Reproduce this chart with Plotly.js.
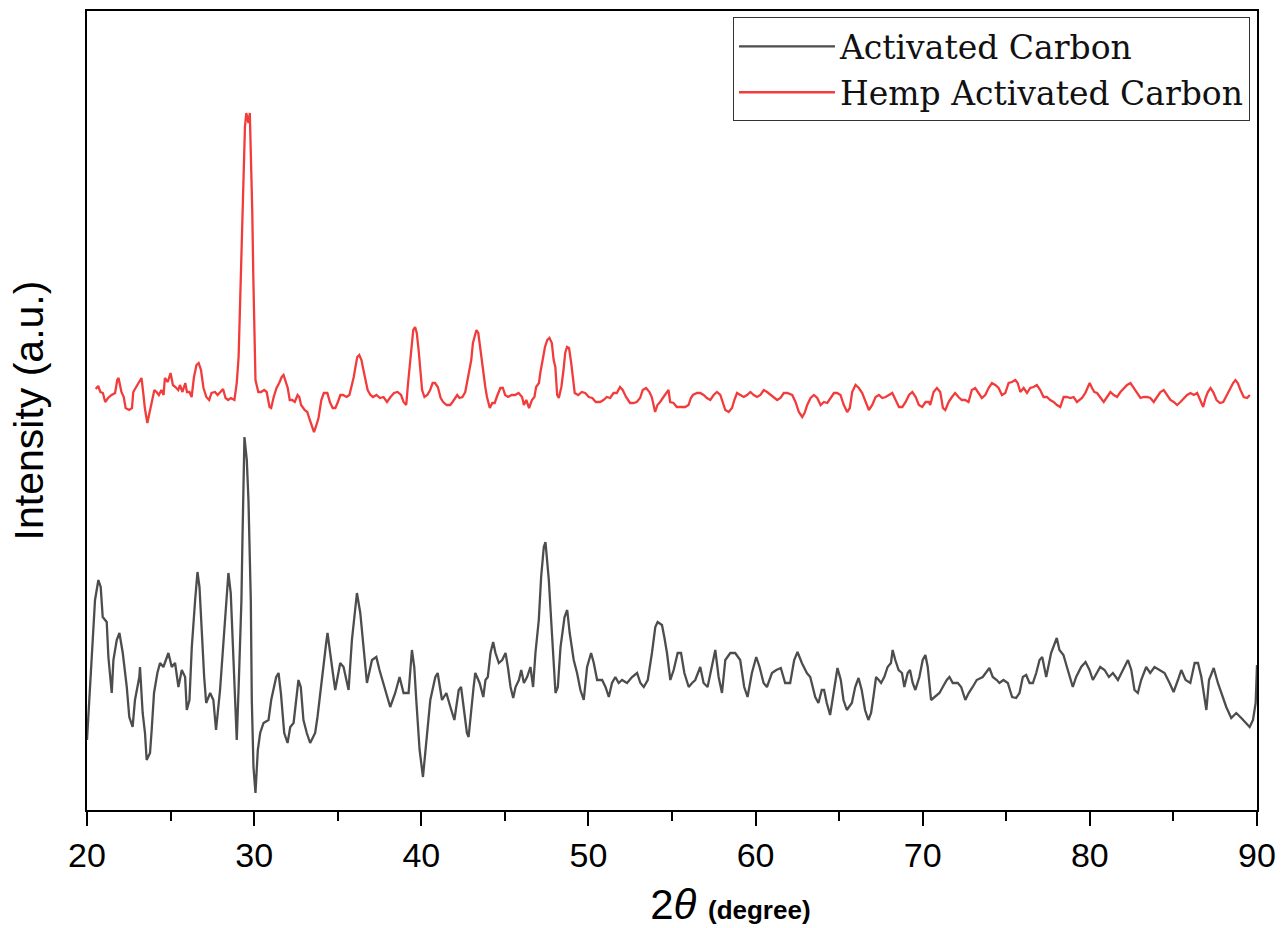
<!DOCTYPE html>
<html>
<head>
<meta charset="utf-8">
<script src="https://cdn.plot.ly/plotly-3.0.1.min.js"></script>
<style>html,body{margin:0;padding:0;background:#fff;}#chart{width:1281px;height:928px;}</style>
</head>
<body>
<div id="chart"></div>
<script>
// Activated Carbon (black/grey trace)
var twoThetaAC = [20.00,20.18,20.34,20.48,20.68,20.82,20.94,21.18,21.28,21.48,21.58,21.78,21.94,22.14,22.38,22.53,22.73,22.87,23.13,23.17,23.33,23.47,23.57,23.77,23.87,24.01,24.21,24.37,24.57,24.87,25.07,25.27,25.47,25.67,25.87,25.97,26.13,26.27,26.47,26.61,26.73,26.87,27.01,27.13,27.37,27.56,27.72,27.96,28.20,28.36,28.46,28.60,28.76,28.96,29.08,29.24,29.30,29.36,29.42,29.56,29.66,29.80,29.86,29.96,30.08,30.22,30.36,30.56,30.86,31.02,31.32,31.46,31.60,31.80,32.00,32.16,32.36,32.65,32.79,32.95,33.15,33.35,33.65,33.79,34.05,34.31,34.39,34.51,34.71,34.85,35.15,35.35,35.65,35.85,36.15,36.35,36.59,36.75,37.05,37.31,37.50,37.84,38.14,38.44,38.70,38.94,39.24,39.44,39.58,39.70,39.90,40.10,40.34,40.54,40.84,40.98,41.24,41.50,41.74,41.98,42.24,42.38,42.73,42.83,43.13,43.23,43.49,43.71,43.84,43.98,44.14,44.30,44.44,44.64,44.84,45.04,45.18,45.34,45.50,45.64,45.84,45.98,46.14,46.33,46.53,46.69,46.83,47.03,47.17,47.33,47.43,47.63,47.83,48.03,48.17,48.33,48.57,48.73,48.88,49.12,49.32,49.52,49.72,49.92,50.16,50.32,50.52,50.82,51.02,51.22,51.41,51.61,51.81,52.01,52.31,52.61,52.91,53.11,53.31,53.55,53.80,54.00,54.14,54.40,54.54,54.70,54.90,55.10,55.34,55.54,55.74,56.00,56.20,56.39,56.69,56.89,57.13,57.39,57.59,57.79,57.99,58.19,58.49,58.78,59.08,59.32,59.52,59.78,60.04,60.24,60.48,60.68,60.98,61.24,61.51,61.77,62.07,62.31,62.51,62.77,63.07,63.27,63.57,63.76,63.96,64.10,64.26,64.46,64.70,64.90,65.10,65.26,65.46,65.76,65.96,66.16,66.35,66.55,66.75,66.91,67.05,67.21,67.37,67.51,67.70,67.90,68.10,68.20,68.36,68.56,68.76,68.90,69.10,69.24,69.40,69.56,69.80,70.00,70.16,70.30,70.50,70.70,71.00,71.20,71.44,71.60,71.80,72.10,72.30,72.55,72.75,72.99,73.23,73.59,73.99,74.19,74.43,74.59,74.83,75.09,75.35,75.59,75.79,75.99,76.19,76.39,76.59,76.79,76.99,77.15,77.39,77.68,77.88,78.02,78.18,78.42,78.68,78.98,79.18,79.48,79.74,79.98,80.18,80.42,80.62,80.88,81.14,81.38,81.68,81.98,82.28,82.48,82.67,82.87,83.07,83.37,83.61,83.87,84.17,84.47,84.77,85.01,85.27,85.47,85.73,86.01,86.27,86.47,86.67,86.87,86.97,87.13,87.41,87.66,87.96,88.16,88.46,88.76,89.06,89.36,89.56,89.76,89.92,90.00];
var intensityAC = [70,123,177,210,230,223,193,188,153,117,150,170,177,157,123,93,83,110,133,143,97,77,50,57,80,117,137,147,143,157,143,147,123,140,133,100,110,163,210,238,223,177,133,107,117,110,80,120,177,217,237,217,157,70,127,210,270,343,373,350,310,210,110,43,17,60,77,87,90,110,133,137,117,77,67,83,87,130,123,90,77,67,77,93,133,167,177,160,137,120,147,143,120,170,217,197,153,127,150,153,140,120,103,117,133,117,117,160,143,110,60,33,77,110,133,137,110,117,103,90,120,123,77,73,123,137,127,113,130,133,157,168,157,147,150,157,143,123,112,123,130,140,127,133,143,123,157,190,233,263,268,230,173,117,123,163,193,200,177,150,137,120,110,143,157,147,130,130,123,113,127,133,127,130,127,133,137,127,123,130,157,183,188,185,173,157,130,140,157,157,137,123,127,130,143,127,123,143,160,133,117,150,157,157,150,123,113,137,153,143,127,123,137,140,142,127,127,150,158,147,137,133,113,107,120,120,107,95,123,142,130,110,100,107,123,132,120,100,90,97,113,133,130,127,133,143,147,160,150,140,137,123,137,140,127,120,133,150,155,143,110,113,117,123,130,133,127,127,123,110,117,123,130,133,142,133,130,127,130,127,113,112,117,133,135,127,127,137,150,153,133,157,165,172,160,155,140,123,133,143,148,140,130,137,143,140,133,137,130,140,150,140,120,117,130,143,137,143,140,137,127,118,130,140,130,127,147,147,133,113,100,130,142,127,113,103,92,97,92,87,83,90,107,145];

// Hemp Activated Carbon (red trace)
var twoThetaHAC = [20.52,20.67,20.80,20.95,21.09,21.26,21.47,21.68,21.81,21.89,22.06,22.20,22.31,22.52,22.69,22.77,22.94,23.11,23.26,23.36,23.46,23.61,23.74,23.88,24.03,24.16,24.30,24.45,24.58,24.66,24.83,25.00,25.14,25.29,25.46,25.56,25.71,25.88,25.98,26.13,26.26,26.40,26.55,26.68,26.82,26.97,27.14,27.31,27.45,27.66,27.81,27.98,28.14,28.29,28.44,28.61,28.82,28.96,29.07,29.17,29.28,29.36,29.45,29.53,29.66,29.74,29.82,29.89,29.95,30.01,30.08,30.25,30.41,30.60,30.75,30.92,31.02,31.17,31.34,31.50,31.65,31.76,31.88,32.01,32.13,32.28,32.43,32.60,32.70,32.81,33.02,33.18,33.33,33.48,33.58,33.69,33.85,34.02,34.17,34.38,34.53,34.70,34.86,35.01,35.16,35.32,35.53,35.70,35.85,35.96,36.06,36.17,36.29,36.42,36.54,36.65,36.79,36.96,37.11,37.32,37.53,37.74,37.95,38.16,38.37,38.58,38.79,38.94,39.10,39.21,39.31,39.42,39.52,39.63,39.73,39.84,39.94,40.05,40.19,40.36,40.53,40.68,40.82,40.99,41.16,41.31,41.52,41.73,41.87,42.04,42.15,42.29,42.46,42.63,42.77,42.88,42.99,43.09,43.20,43.30,43.41,43.51,43.62,43.72,43.83,43.93,44.10,44.25,44.39,44.56,44.73,44.88,45.02,45.19,45.40,45.61,45.82,46.03,46.14,46.28,46.45,46.62,46.77,46.87,47.04,47.12,47.25,47.40,47.54,47.67,47.81,47.92,48.02,48.13,48.23,48.38,48.51,48.61,48.72,48.84,48.97,49.07,49.18,49.39,49.60,49.81,50.02,50.23,50.44,50.70,50.90,51.10,51.30,51.50,51.70,51.89,52.05,52.25,52.49,52.69,52.89,53.09,53.25,53.45,53.65,53.79,53.89,53.99,54.13,54.29,54.49,54.69,54.79,54.89,55.09,55.29,55.49,55.79,55.99,56.13,56.25,56.49,56.69,56.89,57.09,57.29,57.49,57.69,57.89,58.05,58.19,58.39,58.59,58.73,58.89,59.09,59.29,59.49,59.69,59.89,60.09,60.29,60.49,60.69,60.89,61.09,61.29,61.49,61.69,61.89,62.19,62.39,62.59,62.79,62.93,63.09,63.29,63.49,63.69,63.89,64.09,64.29,64.49,64.69,64.88,65.08,65.28,65.48,65.64,65.78,65.98,66.18,66.38,66.58,66.78,66.98,67.18,67.38,67.58,67.78,67.98,68.18,68.38,68.58,68.78,68.98,69.18,69.38,69.58,69.77,69.97,70.17,70.37,70.45,70.65,70.85,71.05,71.21,71.35,71.55,71.75,71.94,72.14,72.34,72.54,72.74,72.94,73.14,73.34,73.54,73.74,73.94,74.14,74.34,74.54,74.74,74.94,75.14,75.34,75.54,75.68,75.84,76.04,76.24,76.43,76.63,76.83,77.03,77.23,77.43,77.63,77.83,78.03,78.23,78.43,78.63,78.83,79.03,79.23,79.39,79.53,79.73,79.87,79.99,80.13,80.27,80.43,80.63,80.83,81.03,81.23,81.43,81.63,81.83,82.03,82.23,82.43,82.63,82.83,83.03,83.22,83.42,83.62,83.82,84.02,84.22,84.42,84.62,84.82,85.02,85.22,85.42,85.62,85.82,86.02,86.22,86.42,86.62,86.78,86.92,87.06,87.22,87.38,87.58,87.78,87.98,88.18,88.37,88.57,88.71,88.85,89.01,89.21,89.41,89.57];
var intensityHAC = [421,424,418,417,408,412,415,417,430,432,418,413,402,400,402,418,423,428,432,418,402,387,397,407,420,418,415,420,415,432,428,437,425,423,420,425,418,427,418,418,413,433,445,447,440,422,413,410,417,418,415,418,421,412,410,412,410,427,453,513,573,637,683,697,687,697,655,597,533,470,430,418,418,420,418,403,402,413,422,427,433,435,428,422,410,410,408,415,413,405,400,398,390,382,378,383,392,410,417,417,408,402,402,408,415,415,413,415,425,433,443,453,455,450,440,430,420,415,413,415,412,413,408,413,417,418,415,408,405,427,443,463,480,483,477,460,440,420,413,415,420,427,427,423,412,408,405,405,408,412,415,412,413,418,430,437,450,467,475,480,477,463,450,437,423,413,402,407,407,415,422,422,415,413,415,415,417,413,405,410,402,410,413,423,427,437,450,463,470,472,467,450,443,415,412,423,440,457,463,462,447,430,417,415,418,417,413,412,408,408,410,413,412,417,417,423,420,413,407,407,408,412,420,422,418,413,405,398,405,408,413,418,420,408,407,403,403,403,405,412,415,417,417,415,412,410,415,418,415,408,400,398,402,410,417,415,413,415,418,415,413,415,420,418,415,413,410,412,417,417,415,408,398,393,397,405,412,415,412,405,408,407,412,417,417,415,405,398,402,418,425,422,417,408,400,405,413,415,412,413,415,417,410,403,403,408,415,418,413,405,403,408,408,405,418,422,418,402,400,408,413,417,413,410,410,408,420,422,417,412,415,422,427,425,422,415,417,427,428,430,427,418,422,417,422,423,425,420,413,413,410,408,405,403,413,413,412,413,408,410,412,417,422,427,422,418,417,412,408,413,418,415,413,418,422,425,427,422,417,412,413,413,412,408,413,418,420,415,410,408,405,408,412,415,417,415,417,410,403,412,418,422,418,410,407,408,415,420,427,430,427,420,413,412,415];

var seriesNames = ['Activated Carbon', 'Hemp Activated Carbon'];
var xTickVals = [20, 30, 40, 50, 60, 70, 80, 90];
var xTickText = ['20', '30', '40', '50', '60', '70', '80', '90'];

var traces = [
  {x: twoThetaAC, y: intensityAC, type: 'scatter', mode: 'lines', name: seriesNames[0],
   line: {color: '#4d4d4d', width: 2.3, shape: 'linear'}},
  {x: twoThetaHAC, y: intensityHAC, type: 'scatter', mode: 'lines', name: seriesNames[1],
   line: {color: '#f23c3c', width: 2.3, shape: 'linear'}}
];

var pad = '';
for (var i = 0; i < 10; i++) pad += '&nbsp;';

var layout = {
  width: 1281, height: 928,
  margin: {l: 87, r: 24, t: 11, b: 118},
  paper_bgcolor: '#fff', plot_bgcolor: '#fff',
  font: {family: 'Arial, "Liberation Sans", sans-serif', color: '#000'},
  showlegend: true,
  legend: {
    x: 0.994, xanchor: 'right', y: 0.992, yanchor: 'top',
    bgcolor: '#fff', bordercolor: '#333', borderwidth: 1,
    font: {family: '"DejaVu Serif", serif', size: 33, color: '#111'},
    itemwidth: 96, tracegroupgap: 0
  },
  xaxis: {
    range: [20, 90], tickvals: xTickVals, ticktext: xTickText,
    ticks: 'outside', ticklen: 14, tickwidth: 2, tickcolor: '#000',
    minor: {dtick: 5, tick0: 20, ticks: 'outside', ticklen: 9, tickwidth: 2, tickcolor: '#000', showgrid: false},
    showline: true, linecolor: '#000', linewidth: 2, mirror: true,
    showgrid: false, zeroline: false,
    tickfont: {family: 'Arial, "Liberation Sans", sans-serif', size: 34, color: '#000'},
    title: {text: pad + '2<i>θ</i> <b><span style="font-size:26px">(degree)</span></b>',
            font: {family: 'Arial, "Liberation Sans", sans-serif', size: 42, color: '#000'}, standoff: 26}
  },
  yaxis: {
    range: [0, 799], showticklabels: false, ticks: '',
    showline: true, linecolor: '#000', linewidth: 2, mirror: true,
    showgrid: false, zeroline: false,
    title: {text: 'Intensity (a.u.)', font: {family: 'Arial, "Liberation Sans", sans-serif', size: 41, color: '#000'}, standoff: 29}
  }
};

Plotly.newPlot('chart', traces, layout, {displayModeBar: false, staticPlot: true});
</script>
</body>
</html>
